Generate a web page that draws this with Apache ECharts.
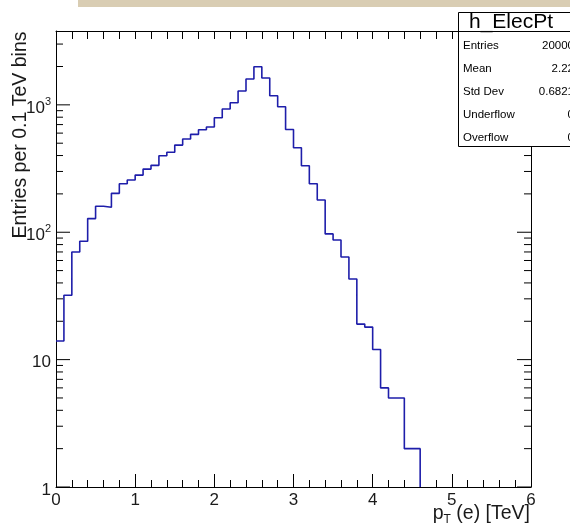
<!DOCTYPE html>
<html>
<head>
<meta charset="utf-8">
<script src="https://cdn.jsdelivr.net/npm/echarts@6/dist/echarts.min.js"></script>
<style>
  html, body { margin: 0; padding: 0; background: #ffffff; }
  #chart { width: 570px; height: 528px; }
</style>
</head>
<body>
<div id="chart"></div>
<script>
// h_ElecPt: electron transverse momentum, 60 bins of 0.1 TeV from 0 to 6 TeV
const xMin = 0;
const xMax = 6;
const binWidth = 0.1;
const counts = [
  14, 32, 70, 85, 128, 160, 157, 202, 240, 257,
  281, 313, 335, 398, 424, 483, 539, 587, 637, 670,
  793, 927, 1040, 1283, 1595, 1991, 1625, 1178, 965, 640,
  460, 333, 240, 179, 97, 87, 64, 43, 19, 18,
  12, 6, 5, 5, 2, 2, 0, 0, 0, 0,
  0, 0, 0, 0, 0, 0, 0, 0, 0, 0
];
const yMin = 1;
const yMax = 3800;
const yDecades = [1, 10, 100, 1000];
const xTickLabels = ['0', '1', '2', '3', '4', '5', '6'];

const statsTitle = 'h_ElecPt';
const statsNames = ['Entries', 'Mean', 'Std Dev', 'Underflow', 'Overflow'];
const statsValues = ['20000', '2.22', '0.6821', '0', '0'];

const FONT = 'Liberation Sans, Arial, Helvetica, sans-serif';
const LINE_BLUE = '#1e1eaa';

// Step outline of the histogram; empty bins sit on the axis floor
let lastFilled = counts.length - 1;
while (lastFilled > 0 && counts[lastFilled] === 0) lastFilled--;
const stepPoints = [];
for (let k = 0; k <= lastFilled; k++) {
  const lo = xMin + k * binWidth;
  const hi = xMin + (k + 1) * binWidth;
  const v = Math.max(counts[k], yMin);
  stepPoints.push([+lo.toFixed(4), v], [+hi.toFixed(4), v]);
}
stepPoints.push([+(xMin + (lastFilled + 1) * binWidth).toFixed(4), yMin]);

// Log-axis tick positions (1..9 per decade)
const yTickValues = [];
yDecades.forEach(d => {
  for (let m = 1; m <= 9; m++) {
    const v = m * d;
    if (v >= yMin && v <= yMax) yTickValues.push([xMin, v, m === 1 ? 1 : 0]);
  }
});

function yLabel(value) {
  const p = Math.round(Math.log10(value));
  if (Math.abs(Math.pow(10, p) - value) > 1e-6 * value) return '';
  if (p === 0) return '1';
  if (p === 1) return '10';
  return '10{sup|' + p + '}';
}

const chart = echarts.init(document.getElementById('chart'), null, { renderer: 'canvas' });

const statsRows = [];
statsNames.forEach((name, i) => {
  const cy = 46 + i * 23;
  statsRows.push({
    type: 'text', x: 463, y: cy, z: 101,
    style: { text: name, font: '11.5px ' + FONT, fill: '#000', align: 'left', verticalAlign: 'middle' }
  });
  statsRows.push({
    type: 'text', x: 574, y: cy, z: 101,
    style: { text: statsValues[i], font: '11.5px ' + FONT, fill: '#000', align: 'right', verticalAlign: 'middle' }
  });
});

chart.setOption({
  animation: false,
  backgroundColor: '#ffffff',
  grid: { left: 56, right: 39, top: 31, bottom: 41, containLabel: false },
  xAxis: [
    {
      type: 'value', min: xMin, max: xMax, interval: 1, position: 'bottom',
      axisLine: { show: true, onZero: false, lineStyle: { color: '#000', width: 1 } },
      axisTick: { show: true, inside: true, length: 13, lineStyle: { color: '#000' } },
      minorTick: { show: true, splitNumber: 5, length: 7, lineStyle: { color: '#000' } },
      splitLine: { show: false },
      axisLabel: {
        margin: 5, fontFamily: FONT, fontSize: 17, color: '#1a1a1a',
        formatter: v => xTickLabels[Math.round(v)] || ''
      }
    },
    {
      type: 'value', min: xMin, max: xMax, interval: 0.2, position: 'top',
      axisLine: { show: true, onZero: false, lineStyle: { color: '#000', width: 1 } },
      axisTick: { show: true, inside: true, length: 8, lineStyle: { color: '#000' } },
      splitLine: { show: false },
      axisLabel: { show: false }
    }
  ],
  yAxis: [
    {
      type: 'log', logBase: 10, min: yMin, max: yMax, position: 'left',
      axisLine: { show: true, onZero: false, lineStyle: { color: '#000', width: 1 } },
      axisTick: { show: false },
      splitLine: { show: false },
      axisLabel: {
        margin: 5, fontFamily: FONT, fontSize: 17, color: '#1a1a1a',
        padding: [6, 0, 0, 0],
        formatter: yLabel,
        rich: { sup: { fontFamily: FONT, fontSize: 11, color: '#1a1a1a', padding: [0, 0, 12, 0] } }
      }
    },
    {
      type: 'log', logBase: 10, min: yMin, max: yMax, position: 'right',
      axisLine: { show: true, onZero: false, lineStyle: { color: '#000', width: 1 } },
      axisTick: { show: false },
      splitLine: { show: false },
      axisLabel: { show: false }
    }
  ],
  series: [
    {
      type: 'line',
      xAxisIndex: 0, yAxisIndex: 0,
      data: stepPoints,
      showSymbol: false,
      symbol: 'none',
      lineStyle: { color: LINE_BLUE, width: 1.6 },
      z: 3
    },
    {
      // ROOT-style log ticks on both vertical sides of the frame
      type: 'custom',
      xAxisIndex: 0, yAxisIndex: 0,
      data: yTickValues,
      silent: true,
      z: 4,
      renderItem: function (params, api) {
        const v = api.value(1);
        const major = api.value(2) === 1;
        const len = major ? 14 : 7;
        const pl = api.coord([xMin, v]);
        const pr = api.coord([xMax, v]);
        return {
          type: 'group',
          children: [
            { type: 'line', shape: { x1: pl[0], y1: pl[1], x2: pl[0] + len, y2: pl[1] }, style: { stroke: '#000', lineWidth: 1 } },
            { type: 'line', shape: { x1: pr[0], y1: pr[1], x2: pr[0] - len, y2: pr[1] }, style: { stroke: '#000', lineWidth: 1 } }
          ]
        };
      }
    }
  ],
  graphic: [
    // paper strip along the top edge
    { type: 'rect', shape: { x: 78, y: 0, width: 492, height: 7 }, style: { fill: '#d9cdb3' }, z: 100 },
    // y-axis title
    {
      type: 'text', x: 21, y: 135, rotation: Math.PI / 2, z: 100,
      style: { text: 'Entries per 0.1 TeV bins', font: '19.5px ' + FONT, fill: '#1a1a1a', align: 'center', verticalAlign: 'middle' }
    },
    // x-axis title
    {
      type: 'text', x: 530, y: 514, z: 100,
      style: {
        text: 'p{sub|T} (e) [TeV]', font: '19.5px ' + FONT, fill: '#1a1a1a', align: 'right', verticalAlign: 'middle',
        rich: { sub: { fontFamily: FONT, fontSize: 12, fill: '#1a1a1a', padding: [11, 0, 0, 0] } }
      }
    },
    // statistics box
    { type: 'rect', shape: { x: 458.5, y: 12.5, width: 140, height: 134 }, style: { fill: '#ffffff', stroke: '#000', lineWidth: 1 }, z: 100 },
    { type: 'line', shape: { x1: 458.5, y1: 31.5, x2: 600, y2: 31.5 }, style: { stroke: '#000', lineWidth: 1 }, z: 101 },
    {
      type: 'text', x: 511, y: 22, z: 101,
      style: { text: statsTitle, font: '21px ' + FONT, fill: '#000', align: 'center', verticalAlign: 'middle' }
    }
  ].concat(statsRows)
});
</script>
</body>
</html>
